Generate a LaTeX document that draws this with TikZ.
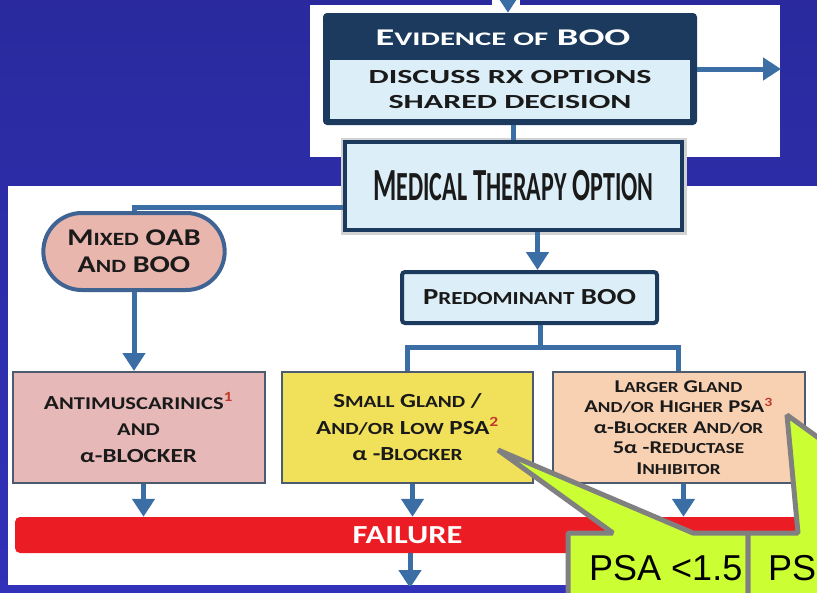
\documentclass[tikz,border=0pt]{standalone}
\usepackage{fontspec}
\setmainfont{Carlito}
\newfontfamily\topfont{Carlito}[FakeStretch=1.6]
\newfontfamily\boxfont{Carlito}[FakeStretch=1.25]
\newfontfamily\medfont{Carlito}[FakeStretch=0.58]
\newfontfamily\psafont{Liberation Sans}
\usetikzlibrary{arrows.meta,shapes.misc}
\definecolor{bgtop}{HTML}{2A2A9E}
\definecolor{bgbot}{HTML}{3131B9}
\definecolor{navy}{HTML}{1B3A5E}
\definecolor{paleblue}{HTML}{DCEEF7}
\definecolor{arrowblue}{HTML}{3A6EA5}
\definecolor{ovalpink}{HTML}{E9B6AE}
\definecolor{ovalline}{HTML}{3F6494}
\definecolor{boxpink}{HTML}{E6B9B8}
\definecolor{boxyellow}{HTML}{F1E05A}
\definecolor{boxpeach}{HTML}{F8D1B2}
\definecolor{boxline}{HTML}{4D5B70}
\definecolor{failred}{HTML}{EC1C24}
\definecolor{lime}{HTML}{CCFF33}
\definecolor{calloutgray}{HTML}{808080}
\definecolor{supred}{HTML}{C0392B}
\definecolor{ink}{HTML}{1A1A1A}
% small capitals by hand
\newcommand{\smc}[2][0.85]{{\addfontfeatures{Scale=#1}#2}}
\newcommand{\fnote}[1]{\textsuperscript{\color{supred}#1}}
\begin{document}
\begin{tikzpicture}[x=1pt, y=-1pt,
    line/.style={arrowblue, line width=5pt},
    arr/.style={line, -{Triangle[width=22pt,length=18pt]}},
    bluebox/.style={fill=paleblue, draw=navy, line width=4pt, rounded corners=3pt, text=ink},
    choice/.style={draw=boxline, line width=2pt, minimum width=252pt, minimum height=111pt,
        text=ink, align=center, font=\boxfont\bfseries\fontsize{20}{26.5}\selectfont},
    callout/.style={fill=lime, draw=calloutgray, line width=5pt, line join=bevel}]
    \clip (0,0) rectangle (817,592);
    % background and panels
    \shade[top color=bgtop, bottom color=bgbot] (0,0) rectangle (817,592);
    \fill[white] (310,5) rectangle (780,157);
    \fill[white] (492,0) rectangle (520,5);
    \fill[white] (8,186) rectangle (817,585);

    % evidence box
    \node[fill=navy, rounded corners=4pt, minimum width=374pt, minimum height=112pt] (evid) at (510,69) {};
    \node[fill=paleblue, minimum width=360pt, minimum height=59pt, inner sep=0pt, align=center,
        text=ink, font=\topfont\bfseries\fontsize{20}{25}\selectfont] (evidbody) at (510,89.5)
        {DISCUSS RX OPTIONS\\SHARED DECISION};
    \node[text=white, font=\topfont\bfseries\fontsize{24}{24}\selectfont] (evidhead) at (503,38)
        {E\smc[0.8]{VIDENCE OF} BOO};

    % medical therapy
    \node[bluebox, rounded corners=0pt, minimum width=337pt, minimum height=88pt,
        preaction={draw=gray!35, line width=9pt},
        font=\medfont\bfseries\fontsize{46}{46}\selectfont] (med) at (513.5,186)
        {M\smc[0.9]{EDICAL} T\smc[0.9]{HERAPY} O\smc[0.9]{PTION}};

    \node[rounded rectangle, fill=ovalpink, draw=ovalline, line width=4pt, minimum width=188pt,
        minimum height=77pt, align=center, text=ink,
        font=\boxfont\bfseries\fontsize{24}{27}\selectfont] (mixed) at (134,251.5)
        {M\smc[0.78]{IXED} OAB\\A\smc[0.78]{ND} BOO};

    \node[bluebox, minimum width=255pt, minimum height=51pt,
        font=\boxfont\bfseries\fontsize{23}{23}\selectfont] (pre) at (529.5,297.5)
        {P\smc[0.8]{REDOMINANT} BOO};

    % choices
    \node[choice, fill=boxpink] (anti) at (138.5,427.5)
        {A\smc[0.9]{NTIMUSCARINICS}\fnote{1}\\\smc[0.9]{AND}\\α-BLOCKER};
    \node[choice, fill=boxyellow, minimum width=251pt] (small) at (407.5,427.5)
        {S\smc{MALL} G\smc{LAND} /\\A\smc{ND/OR} L\smc{OW} PSA\fnote{2}\\α -B\smc{LOCKER}};
    \node[choice, fill=boxpeach, font=\boxfont\bfseries\fontsize{18}{20.5}\selectfont] (large) at (678.5,427.5)
        {L\smc{ARGER} G\smc{LAND}\\A\smc{ND/OR} H\smc{IGHER} PSA\fnote{3}\\α-B\smc{LOCKER} A\smc{ND/OR}\\5α -R\smc{EDUCTASE}\\I\smc{NHIBITOR}};

    \node[fill=failred, rounded corners=5pt, minimum width=785pt, minimum height=36pt, text=white,
        font=\boxfont\bfseries\fontsize{26}{26}\selectfont] (fail) at (407.5,535) {FAILURE};

    % connectors
    \coordinate (intop) at (508,-6);
    \coordinate (outright) at (781,69);
    \coordinate (split) at (540,347);
    \coordinate (failout) at (410,588);
    \draw[arr] (intop) -- (intop |- evid.north);
    \draw[arr] (evid.east) -- (outright);
    \draw[line] (evid.south -| med.north) -- (med.north);
    \draw[line] ([yshift=-21pt]med.west) -| (mixed.north);
    \draw[arr] (mixed.south) -- (mixed.south |- anti.north);
    \draw[arr] ([xshift=24pt]med.south) -- ([xshift=24pt]med.south |- pre.north);
    \draw[line] (pre.south -| split) -- (split);
    \draw[line] (small.north) |- (split) -| (large.north);
    \foreach \b in {anti,small,large}
        \draw[arr] ([xshift=5pt]\b.south) -- ([xshift=5pt]\b.south |- fail.north);
    \begin{scope}
        \clip (8,186) rectangle (817,585);
        \draw[arr] (fail.south -| failout) -- (failout);
    \end{scope}

    % callouts
    \draw[callout] (568,533) -- (613,533) -- (498,450) -- (693,533) -- (748,533)
        -- (748,600) -- (568,600) -- cycle;
    \node[anchor=base west, inner sep=0pt, font=\psafont\fontsize{36}{36}\selectfont] (psalow) at (589,580) {PSA <1.5};
    \draw[callout] (748,533) -- (798,533) -- (787,415) -- (950,533)
        -- (950,600) -- (748,600) -- cycle;
    \node[anchor=base west, inner sep=0pt, font=\psafont\fontsize{36}{36}\selectfont] (psahigh) at (768,580) {PS};
\end{tikzpicture}
\end{document}
